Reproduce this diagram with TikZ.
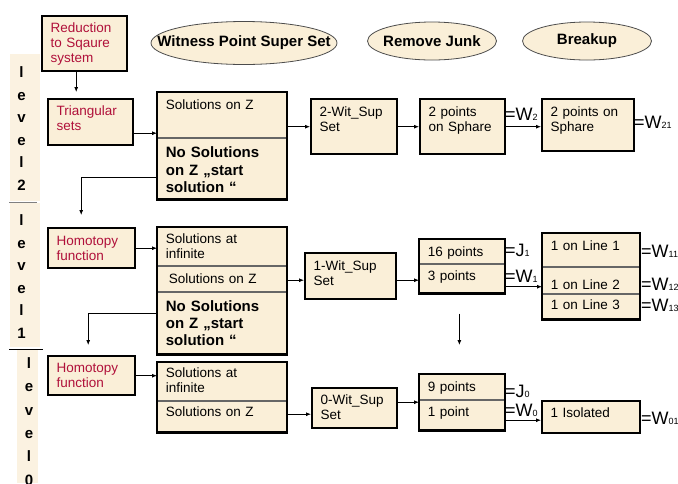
\documentclass[tikz,border=0pt]{standalone}
\usepackage{fontspec}
\setmainfont{Liberation Sans}
\usetikzlibrary{shapes.geometric, arrows.meta}
\definecolor{boxfill}{HTML}{FAEFD8}
\definecolor{sidefill}{HTML}{FBF2E1}
\definecolor{redtext}{HTML}{B0103A}

\begin{document}
\begin{tikzpicture}[
    x=1pt, y=-1pt, % one unit = one pixel of the layout, y downwards
    every node/.style={font=\fontsize{13.5}{15}\selectfont, inner xsep=8.5pt, inner ysep=0pt},
    sz/.code n args={3}{\pgfmathsetmacro\tw{#1-17}\pgfkeysalso{/tikz/text width/.expanded={\tw pt}, /tikz/text height=#2pt, /tikz/text depth=#3pt}},
    blk/.style={draw, line width=2.4pt, fill=boxfill, anchor=north west, align=left},
    redbox/.style={blk, text=redtext},
    cell/.style={draw=black!60, line width=0.8pt, fill=boxfill, anchor=north west, align=left},
    frame/.style={draw, line width=2.4pt},
    bigtxt/.style={font=\bfseries\fontsize{15}{17.3}\selectfont},
    hdr/.style={ellipse, draw=black!70, line width=0.8pt, fill=boxfill, inner sep=0pt, font=\bfseries\fontsize{15}{18}\selectfont},
    lvl/.style={align=center, inner sep=0pt, font=\bfseries\fontsize{15}{22.6}\selectfont},
    eq/.style={anchor=base west, inner sep=0pt, font=\fontsize{18}{18}\selectfont},
    arr/.style={-{Latex[length=5pt, width=4pt]}, line width=0.8pt},
    sep/.style={line width=0.9pt}
]
    \useasboundingbox (0,0) rectangle (678,483);

    % small index after =W / =J
    \def\lo#1{{\fontsize{9}{9}\selectfont #1}}

    % --- 1. LEVEL SIDEBAR ---
    \fill[sidefill] (10,54) rectangle (40,201);
    \fill[sidefill] (10,203) rectangle (40,347);
    \fill[sidefill] (17,350) rectangle (38,483);
    \node[lvl] (lvl2) at (21.5,128.5) {l\\e\\v\\e\\l\\2};
    \node[lvl] (lvl1) at (21.5,276.5) {l\\e\\v\\e\\l\\1};
    \node[lvl, font=\bfseries\fontsize{15}{23.4}\selectfont] (lvl0) at (29,421.5) {l\\e\\v\\e\\l\\0};
    \draw[sep, black!50] (9,202) -- (37,202);
    \draw[sep] (9,349) -- (43,349);

    % --- 2. COLUMN HEADERS ---
    \node[hdr, minimum width=186pt, minimum height=43pt] (wps) at (244,43) {\makebox[0pt]{Witness Point Super Set}};
    \node[hdr, minimum width=129pt, minimum height=38pt] (junk) at (432,41) {\makebox[0pt]{Remove Junk}};
    \node[hdr, minimum width=129pt, minimum height=38pt] (brk) at (587,41) {\makebox[0pt]{Breakup}};

    % ==========================================
    % LEVEL 2
    % ==========================================
    \node[redbox, sz={85}{16.5}{38.5}] (red) at (41,15) {Reduction\\to Sqaure\\system};
    \node[redbox, sz={85}{16.5}{29.5}] (tri) at (47,98) {Triangular\\sets};

    \node[cell, sz={129}{17}{28}] (big2a) at (157,92) {Solutions on Z};
    \node[cell, bigtxt, sz={129}{19.7}{41.3}] (big2b) at (big2a.south west) {No Solutions\\on Z „start\\solution “};
    \draw[frame] (big2a.north west) rectangle (big2b.south east);

    \node[blk, sz={86}{17}{38}] (wit2) at (310,98) {2-Wit\_Sup\\Set};
    \node[blk, sz={85}{17}{38}] (junk2) at (419,98) {2 points\\on Sphare};
    \node[blk, sz={92}{17}{35}] (brk2) at (541,98) {2 points on\\Sphare};

    \node[eq] (w2) at (505,120) {=W\lo{2}};
    \node[eq] (w21) at (634,128.3) {=W\lo{21}};

    \draw[arr, shorten >=6pt] ([xshift=-8.5pt]red.south) -- ([xshift=-8.5pt]red.south |- tri.north);
    \draw[arr] ([yshift=-11pt]tri.east) -- ([yshift=-11pt]tri.east -| big2a.west);
    \draw[arr] (wit2.west -| big2a.east) -- (wit2.west);
    \draw[arr] (wit2.east) -- (junk2.west);
    \draw[arr] (junk2.east) -- (junk2.east -| brk2.west);

    % ==========================================
    % LEVEL 1
    % ==========================================
    \node[redbox, sz={87}{16.8}{23.2}] (hom1) at (47,227) {Homotopy\\function};

    \node[cell, sz={129}{16}{22}] (big1a) at (157,227) {Solutions at\\infinite};
    \node[cell, sz={129}{17}{8}] (big1b) at (big1a.south west) {\hspace*{3pt}Solutions on Z};
    \node[cell, bigtxt, sz={129}{19.3}{42.7}] (big1c) at (big1b.south west) {No Solutions\\on Z „start\\solution “};
    \draw[frame] (big1a.north west) rectangle (big1c.south east);

    \node[blk, sz={91}{17.3}{28.7}] (wit1) at (304,252) {1-Wit\_Sup\\Set};

    \node[cell, sz={85}{17}{7}] (junk1a) at (419,239) {16 points};
    \node[cell, sz={85}{16.3}{12.7}] (junk1b) at (junk1a.south west) {3 points};
    \draw[frame] (junk1a.north west) rectangle (junk1b.south east);

    \node[cell, sz={97}{17}{16}] (brk1a) at (542,233) {1 on Line 1};
    \node[cell, sz={97}{22.7}{3.3}] (brk1b) at (brk1a.south west) {1 on Line 2};
    \node[cell, sz={97}{15.3}{9.7}] (brk1c) at (brk1b.south west) {1 on Line 3};
    \draw[frame] (brk1a.north west) rectangle (brk1c.south east);

    \node[eq] (j1) at (505,256) {=J\lo{1}};
    \node[eq] (w1) at (505,282) {=W\lo{1}};
    \node[eq] (w11) at (641,257) {=W\lo{11}};
    \node[eq] (w12) at (641,290) {=W\lo{12}};
    \node[eq] (w13) at (641,311.5) {=W\lo{13}};

    \draw[arr, shorten >=12pt] ([yshift=-8.5pt]big2b.west) -| ([xshift=-10.5pt]hom1.north);
    \draw[arr] (hom1.east) -- (hom1.east -| big1a.west);
    \draw[arr] ([yshift=-1.5pt]big1b.east) -- ([yshift=-1.5pt]big1b.east -| wit1.west);
    \draw[arr] ([yshift=-4pt]wit1.east) -- ([yshift=-4pt]wit1.east -| junk1a.west);
    \draw[arr] ([yshift=-8pt]junk1b.east) -- ([yshift=-8pt]junk1b.east -| brk1b.west);

    % ==========================================
    % LEVEL 0
    % ==========================================
    \node[redbox, sz={87}{16.2}{22.8}] (hom0) at (47,355) {Homotopy\\function};

    \node[cell, sz={129}{15.3}{22.7}] (big0a) at (157,362) {Solutions at\\infinite};
    \node[cell, sz={129}{15}{16}] (big0b) at (big0a.south west) {Solutions on Z};
    \draw[frame] (big0a.north west) rectangle (big0b.south east);

    \node[blk, sz={85}{16.3}{23.7}] (wit0) at (311,387) {0-Wit\_Sup\\Set};

    \node[cell, sz={85}{17}{8}] (junk0a) at (419,374) {9 points};
    \node[cell, sz={85}{16}{14}] (junk0b) at (junk0a.south west) {1 point};
    \draw[frame] (junk0a.north west) rectangle (junk0b.south east);

    \node[blk, sz={98}{16}{16}] (brk0) at (541,400) {1 Isolated};

    \node[eq] (j0) at (505,397) {=J\lo{0}};
    \node[eq] (w0) at (505,416) {=W\lo{0}};
    \node[eq] (w01) at (641,424) {=W\lo{01}};

    \draw[arr, shorten >=10pt] ([yshift=10pt]big1c.west) -| ([xshift=-3.5pt]hom0.north);
    \draw[arr, shorten <=20pt, shorten >=29pt] ([xshift=-2.5pt]junk1b.south) -- ([xshift=-2.5pt]junk0a.north);
    \draw[arr] (hom0.east) -- (hom0.east -| big0a.west);
    \draw[arr] ([yshift=2.5pt]big0b.east) -- ([yshift=2.5pt]big0b.east -| wit0.west);
    \draw[arr] ([yshift=6pt]wit0.east) -- ([yshift=6pt]wit0.east -| junk0a.west);
    \draw[arr] ([yshift=-5pt]junk0b.east) -- ([yshift=-5pt]junk0b.east -| brk0.west);

\end{tikzpicture}
\end{document}
